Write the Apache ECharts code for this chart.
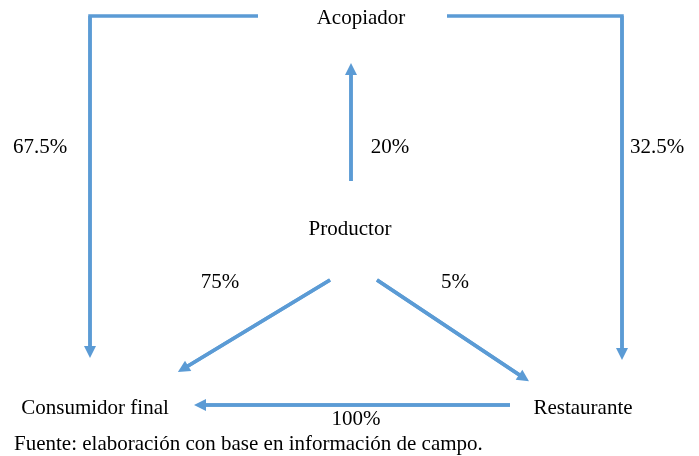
<!DOCTYPE html>
<html>
<head>
<meta charset="utf-8">
<script src="https://cdn.jsdelivr.net/npm/echarts@6/dist/echarts.min.js"></script>
<style>
  html, body { margin: 0; padding: 0; background: #fff; }
  #chart { width: 699px; height: 456px; }
</style>
</head>
<body>
<div id="chart"></div>
<script>
// actores del canal (nombre, x, y en el lienzo)
var nodeNames = ['Acopiador', 'Productor', 'Consumidor final', 'Restaurante'];
var nodeX = [361, 350, 95, 583];
var nodeY = [18, 229, 408, 408];

// flujos: trazo de cada flecha y su porcentaje
var flowPaths = [
  [[258, 16], [90, 16], [90, 352]],
  [[447, 16], [622, 16], [622, 354]],
  [[351, 181], [351, 69]],
  [[330, 280], [183, 369]],
  [[377, 280], [524, 378]],
  [[510, 405], [200, 405]]
];
var flowLabels = ['67.5%', '32.5%', '20%', '75%', '5%', '100%'];
var labelX = [40, 657, 390, 220, 455, 356];
var labelY = [147, 147, 147, 282, 282, 419];

var source = 'Fuente: elaboración con base en información de campo.';

var chart = echarts.init(document.getElementById('chart'));
var FONT = 'Liberation Serif';
var BLUE = '#5b9bd5';

var textPoints = [];
nodeNames.forEach(function (n, i) { textPoints.push({ name: n, value: [nodeX[i], nodeY[i]] }); });
flowLabels.forEach(function (n, i) { textPoints.push({ name: n, value: [labelX[i], labelY[i]] }); });

// ultimo tramo de cada flujo, para la punta de flecha
var lastSegments = flowPaths.map(function (p) {
  return { coords: [p[p.length - 2], p[p.length - 1]] };
});

chart.setOption({
  animation: false,
  grid: { left: 0, right: 0, top: 0, bottom: 0 },
  xAxis: { type: 'value', min: 0, max: 699, show: false },
  yAxis: { type: 'value', min: 0, max: 456, inverse: true, show: false },
  title: {
    text: source,
    left: 9,
    top: 429,
    textStyle: { fontFamily: FONT, fontSize: 21, fontWeight: 'normal', color: '#000' }
  },
  series: [
    {
      type: 'lines',
      coordinateSystem: 'cartesian2d',
      polyline: true,
      lineStyle: { color: BLUE, width: 3.5, opacity: 1 },
      data: flowPaths.map(function (p) { return { coords: p }; })
    },
    {
      type: 'lines',
      coordinateSystem: 'cartesian2d',
      symbol: ['none', 'triangle'],
      symbolSize: [13, 12],
      lineStyle: { color: BLUE, width: 3.5, opacity: 1 },
      data: lastSegments
    },
    {
      type: 'scatter',
      symbolSize: 0,
      itemStyle: { opacity: 1 },
      label: {
        show: true,
        position: 'inside',
        formatter: '{b}',
        fontFamily: FONT,
        fontSize: 21,
        color: '#000'
      },
      data: textPoints
    }
  ]
});
</script>
</body>
</html>
